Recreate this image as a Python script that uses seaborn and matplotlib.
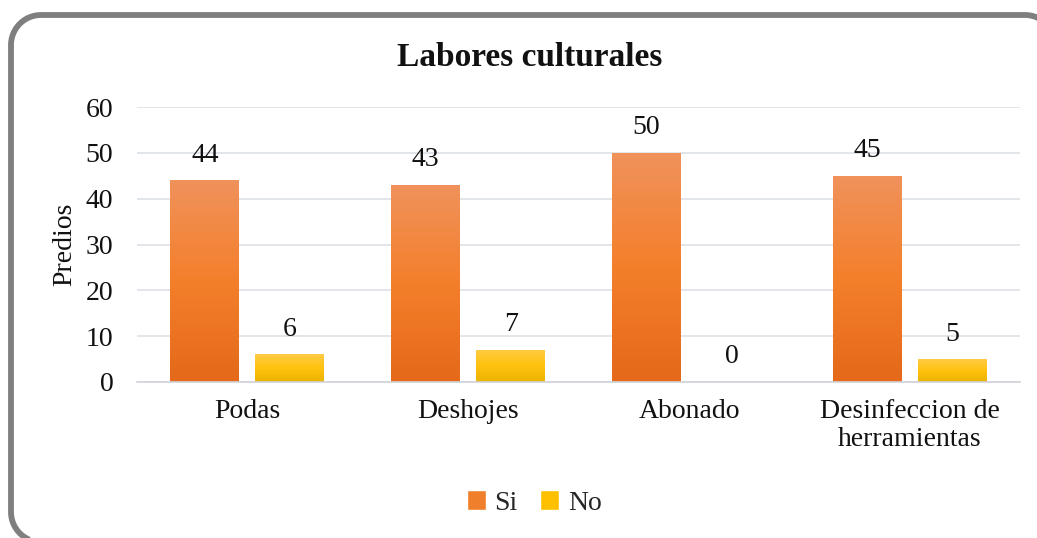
import numpy as np
import pandas as pd
import seaborn as sns
import matplotlib.pyplot as plt
from matplotlib.patches import Patch
from matplotlib.lines import Line2D
from matplotlib.colors import LinearSegmentedColormap
from matplotlib.transforms import IdentityTransform

# Data
categorias = ['Podas', 'Deshojes', 'Abonado', 'Desinfeccion de\nherramientas']
si_vals = [44, 43, 50, 45]
no_vals = [6, 7, 0, 5]
series = ['Si', 'No']

df = pd.DataFrame({
    'Labor': categorias * 2,
    'Respuesta': ['Si'] * 4 + ['No'] * 4,
    'Predios': si_vals + no_vals,
})

sns.set_theme(style='white')
plt.rcParams['font.family'] = ['Liberation Serif', 'DejaVu Serif']
FS = 20

fig = plt.figure(figsize=(10.37, 5.38), dpi=100)
ax = fig.add_axes([0.132, 0.29, 0.852, 0.511])

base_colors = {'Si': '#F07F2C', 'No': '#FFC000'}
sns.barplot(data=df, x='Labor', y='Predios', hue='Respuesta', palette=base_colors,
            width=0.77, gap=0.19, ax=ax, legend=False)

# gradient fills
grads = {
    'Si': LinearSegmentedColormap.from_list('si', ['#E4691A', '#F47F2B', '#F0925C']),
    'No': LinearSegmentedColormap.from_list('no', ['#EAB300', '#FFC20E', '#FFCB45']),
}
grad = np.linspace(0, 1, 256).reshape(-1, 1)
for container, name in zip(ax.containers, series):
    for bar in container:
        h = bar.get_height()
        if h <= 0:
            continue
        x0 = bar.get_x()
        w = bar.get_width()
        img = ax.imshow(grad, cmap=grads[name], origin='lower', aspect='auto',
                        extent=[x0, x0 + w, 0, h], zorder=bar.get_zorder())
        img.set_clip_path(bar)
        bar.set_alpha(0)
    ax.bar_label(container, labels=[str(int(b.get_height())) for b in container],
                 padding=9, fontsize=FS, color='#111111')
ax.set_xlim(-0.5, 3.5)
ax.set_ylim(0, 60)

ax.set_yticks(range(0, 61, 10))
ax.yaxis.grid(True, color='#DDE0E6', linewidth=1.2)
ax.set_axisbelow(True)
for s in ['top', 'right', 'left']:
    ax.spines[s].set_visible(False)
ax.spines['bottom'].set_color('#D0D4DA')
ax.spines['bottom'].set_linewidth(1.2)
ax.tick_params(axis='both', length=0, labelsize=FS, colors='#111111')
ax.tick_params(axis='x', pad=12)
ax.tick_params(axis='y', pad=17)
ax.set_xlabel('')
ax.set_ylabel('Predios', fontsize=FS, color='#111111', labelpad=6)
fig.text(530 / 1037, 1 - 57 / 538, 'Labores culturales', fontsize=24, fontweight='bold',
         ha='center', va='center', color='#111111')

# legend
handles = [Patch(facecolor='#F07F2C', label='Si'), Patch(facecolor='#FFC000', label='No')]
fig.legend(handles=handles, loc='center', bbox_to_anchor=(0.515, 1 - 503 / 538), ncol=2,
           frameon=False, fontsize=FS, handlelength=0.7, handleheight=0.7,
           handletextpad=0.3, columnspacing=0.8)

# rounded outer border (pixels), drawn as an open line so off-canvas parts are not clipped oddly
r = 30
left, right, top, bottom = 11, 1055, 523, -4


def arc(cx, cy, a0, a1):
    t = np.radians(np.linspace(a0, a1, 30))
    return cx + r * np.cos(t), cy + r * np.sin(t)


parts = [
    ([right], [bottom - 20]),
    ([right], [top - r]),
    arc(right - r, top - r, 0, 90),
    arc(left + r, top - r, 90, 180),
    arc(left + r, bottom + r, 180, 270),
    ([right], [bottom]),
]
bx = np.concatenate([np.asarray(p[0], float) for p in parts])
by = np.concatenate([np.asarray(p[1], float) for p in parts])
border = Line2D(bx, by, color='#7F7F7F', linewidth=4.2, solid_joinstyle='round')
border.set_transform(IdentityTransform())
border.set_in_layout(False)
fig.add_artist(border)

fig.savefig('out.png', dpi=100)
